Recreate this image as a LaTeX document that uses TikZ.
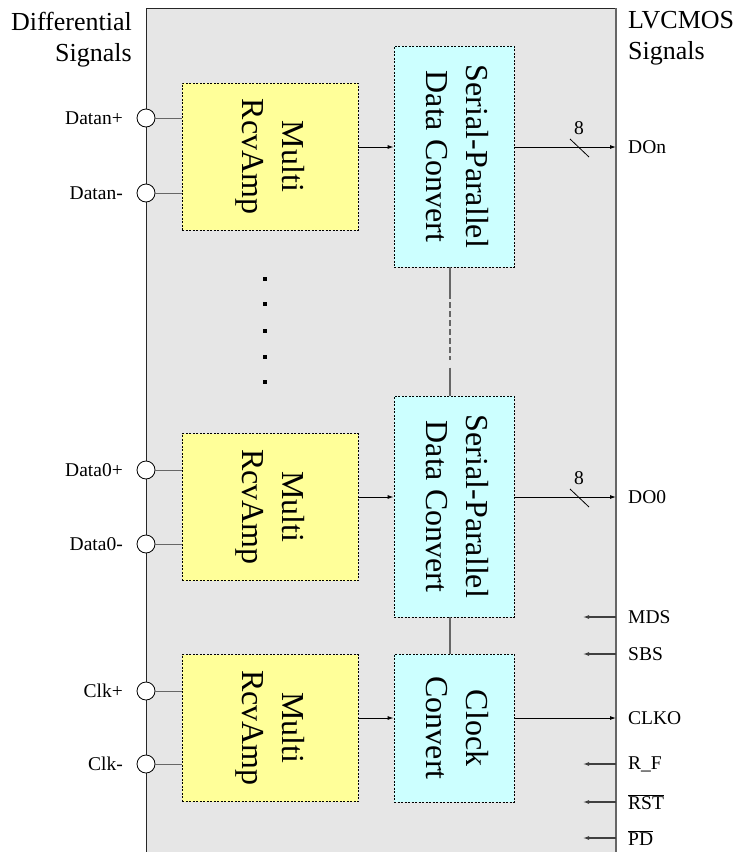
\documentclass[tikz,border=0pt]{standalone}
\usepackage{fontspec}
\setmainfont{Liberation Serif}
\usetikzlibrary{arrows.meta,calc}
\definecolor{bggray}{HTML}{E6E6E6}
\definecolor{ampfill}{HTML}{FFFF99}
\definecolor{spfill}{HTML}{CCFFFF}
\definecolor{wiregray}{HTML}{666666}
\begin{document}
\begin{tikzpicture}[x=1pt,y=-1pt,
  lbl/.style={font=\fontsize{19.5}{21}\selectfont, inner sep=0pt},
  head/.style={font=\fontsize{26}{31}\selectfont, inner sep=0pt},
  blk/.style={draw=black, dash pattern=on 2pt off 1.5pt, line width=0.8pt, inner sep=0pt, font=\fontsize{32}{40}\selectfont},
  ampbox/.style={blk, fill=ampfill, minimum width=176pt, minimum height=147pt},
  spbox/.style={blk, fill=spfill, minimum width=120pt, minimum height=221pt},
  clkbox/.style={blk, fill=spfill, minimum width=120pt, minimum height=148pt},
  pinc/.style={circle, draw=black, fill=white, line width=0.8pt, minimum size=18pt, inner sep=0pt},
  wire/.style={draw=wiregray, line width=1pt},
  arr/.style={draw=black, line width=0.9pt, -{Latex[length=6pt,width=4pt]}},
  inarr/.style={draw=black!75, line width=1.1pt, -{Latex[length=6pt,width=4pt]}},
  dotsq/.style={fill=black, minimum size=3.5pt, inner sep=0pt}
]
\useasboundingbox (0,0) rectangle (740,852);
% chip body
\fill[bggray] (146,8) rectangle (616,852);
\draw[black!85, line width=1pt] (146,852) -- (146,8) -- (616,8);
\draw[black!60, line width=1.2pt] (616,8) -- (616,852);

% headings
\node[head, anchor=north east, align=right] (hdL) at (132,11.5) {Differential\\Signals};
\node[head, anchor=north west, align=left] (hdR) at (628,11.5) {LVCMOS\\Signals};

% blocks
\node[ampbox] (amp1) at (270,156.5) {\rotatebox{-90}{\begin{tabular}{@{}c@{}}Multi\\RcvAmp\end{tabular}}};
\node[ampbox] (amp2) at (270,507) {\rotatebox{-90}{\begin{tabular}{@{}c@{}}Multi\\RcvAmp\end{tabular}}};
\node[ampbox] (amp3) at (270,728) {\rotatebox{-90}{\begin{tabular}{@{}c@{}}Multi\\RcvAmp\end{tabular}}};
\node[spbox] (sp1) at (454,156.5) {\rotatebox{-90}{\begin{tabular}{@{}c@{}}Serial-Parallel\\Data Convert\end{tabular}}};
\node[spbox] (sp2) at (454,506.5) {\rotatebox{-90}{\begin{tabular}{@{}c@{}}Serial-Parallel\\Data Convert\end{tabular}}};
\node[clkbox] (clk) at (454,728) {\rotatebox{-90}{\begin{tabular}{@{}c@{}}Clock\\Convert\end{tabular}}};

% pins
\foreach \nm/\yy/\tx/\blk in {pAp/118/Datan+/amp1, pAm/193/Datan-/amp1, pBp/470/Data0+/amp2, pBm/544/Data0-/amp2, pCp/691/Clk+/amp3, pCm/764/Clk-/amp3}{
  \node[pinc] (\nm) at (146,\yy) {};
  \draw[wire] (\nm.east) -- (\nm.east -| \blk.west);
  \node[lbl, anchor=east] (l\nm) at (123,\yy) {\tx};
}

% dots
\foreach \i/\yy in {1/279,2/304,3/331,4/357,5/382}{
  \node[dotsq] (dot\i) at (265,\yy) {};
}

% amp -> converter
\draw[arr] ([yshift=9.5pt]amp1.east) -- ([yshift=9.5pt]amp1.east -| sp1.west);
\draw[arr] ([yshift=10pt]amp2.east) -- ([yshift=10pt]amp2.east -| sp2.west);
\draw[arr] ([yshift=10pt]amp3.east) -- ([yshift=10pt]amp3.east -| clk.west);

% vertical links between converters
\coordinate (v1) at ([xshift=-4pt]sp1.south);
\coordinate (v4) at ([xshift=-4pt]sp2.north);
\coordinate (v2) at ($(v1)+(0,26)$);
\coordinate (v3) at ($(v4)+(0,-28)$);
\draw[wire, line width=1.2pt] (v1) -- (v2);
\draw[wire, line width=1.2pt, dash pattern=on 6pt off 3pt] (v2) -- ($(v3)+(0,-8)$);
\draw[wire, line width=1.2pt] (v3) -- (v4);
\draw[wire, line width=1.2pt] ([xshift=-4pt]sp2.south) -- ([xshift=-4pt]clk.north);

% outputs
\coordinate (oDOn) at (616,147);
\coordinate (oDO0) at (616,497);
\coordinate (oCLKO) at (616,718);
\draw[arr] (sp1.east |- oDOn) -- (oDOn);
\draw[arr] (sp2.east |- oDO0) -- (oDO0);
\draw[arr] (clk.east |- oCLKO) -- (oCLKO);
\draw[line width=0.8pt] (570,139) -- (589,157);
\draw[line width=0.8pt] (570,489) -- (589,507);
\node[lbl] (n8a) at (579,128) {8};
\node[lbl] (n8b) at (579,478) {8};
\node[lbl, anchor=west] (lDOn) at (628,147) {DOn};
\node[lbl, anchor=west] (lDO0) at (628,497) {DO0};
\node[lbl, anchor=west] (lCLKO) at (628,718) {CLKO};

% inputs
\foreach \nm/\yy/\tx in {MDS/617/MDS, SBS/654/SBS, RF/764/R\_F, RST/802/$\overline{\mbox{RST}}$, PD/838/$\overline{\mbox{PD}}$}{
  \coordinate (i\nm) at (616,\yy);
  \coordinate (e\nm) at (583,\yy);
  \draw[inarr] (i\nm) -- (e\nm);
  \node[lbl, anchor=west] (l\nm) at (628,\yy) {\tx};
}
\end{tikzpicture}
\end{document}
